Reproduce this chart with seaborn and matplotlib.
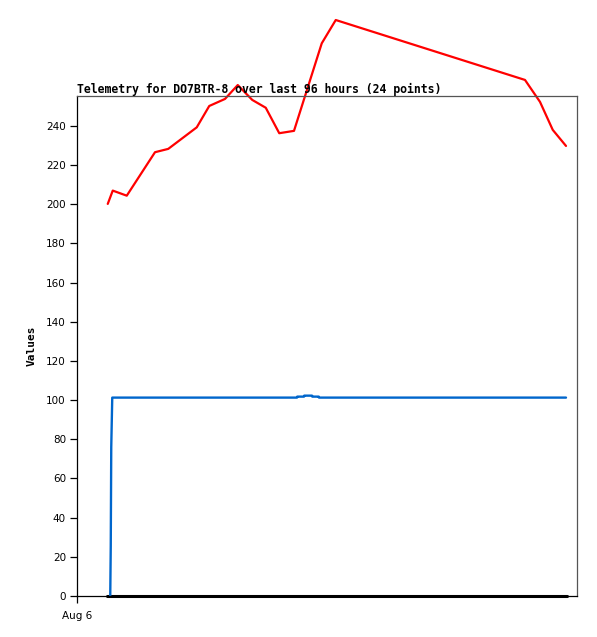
import numpy as np
import pandas as pd
import seaborn as sns
import matplotlib.pyplot as plt

# hours after Aug 6 00:00
red_hours = [1.23, 1.43, 1.99, 3.12, 3.65, 4.79, 5.29, 5.92, 6.43, 7.01,
             7.55, 8.09, 8.68, 9.79, 10.35, 17.92, 18.52, 19.03, 19.56]
red_vals = [200.2, 207.0, 204.4, 226.6, 228.3, 239.3, 250.2, 253.8, 260.9, 253.3,
            249.3, 236.3, 237.5, 282.2, 294.1, 263.5, 252.3, 238.0, 229.8]

blue_hours = [1.33, 1.35, 1.37, 1.41, 8.80, 8.81, 9.08, 9.09, 9.40, 9.41, 9.67, 9.68, 19.56]
blue_vals = [0.0, 25.5, 76.0, 101.3, 101.3, 101.8, 101.8, 102.3, 102.3, 101.8, 101.8, 101.3, 101.3]

black_hours = [1.20, 19.6]
black_vals = [0.0, 0.0]

x_ticks = [0]
x_labels = ["Aug 6"]
y_ticks = list(range(0, 241, 20))

sns.set_theme(style="white")
plt.rcParams['font.family'] = ['DejaVu Sans']
plt.rcParams['text.color'] = 'black'
plt.rcParams['axes.labelcolor'] = 'black'
plt.rcParams['xtick.color'] = 'black'
plt.rcParams['ytick.color'] = 'black'

fig = plt.figure(figsize=(5.97, 6.37), dpi=100)
ax = fig.add_axes([77 / 597, 41 / 637, 500 / 597, 500 / 637])

red = pd.DataFrame({"t": red_hours, "v": red_vals})
blue = pd.DataFrame({"t": blue_hours, "v": blue_vals})
black = pd.DataFrame({"t": black_hours, "v": black_vals})

sns.lineplot(data=black, x="t", y="v", color="black", linewidth=2.2, ax=ax, sort=False)
sns.lineplot(data=blue, x="t", y="v", color="#0066CC", linewidth=1.7, ax=ax, sort=False)
sns.lineplot(data=red, x="t", y="v", color="#FF0000", linewidth=1.6, ax=ax, sort=False)
for line in ax.lines:
    line.set_clip_on(False)

ax.set_xlim(0, 20)
ax.set_ylim(0, 255.3)
ax.set_xticks(x_ticks)
ax.set_xticklabels(x_labels)
ax.set_yticks(y_ticks)
ax.tick_params(axis="both", direction="out", length=5, width=0.9, color="black",
               labelsize=7.5, labelcolor="black", pad=3, bottom=True, left=True)
ax.tick_params(axis="x", pad=6)

for s in ["left", "bottom"]:
    ax.spines[s].set_color("black")
    ax.spines[s].set_linewidth(0.9)
for s in ["top", "right"]:
    ax.spines[s].set_color("#555555")
    ax.spines[s].set_linewidth(0.9)

ax.set_xlabel("")
ax.set_ylabel("Values", family="DejaVu Sans Mono", fontweight="bold", fontsize=8,
              labelpad=7, color="black")
ax.set_title("Telemetry for DO7BTR-8 over last 96 hours (24 points)", loc="left",
             family="DejaVu Sans Mono", fontweight="bold", fontsize=8.3, pad=2,
             color="black")

fig.savefig("out.png", dpi=100, facecolor="white")
